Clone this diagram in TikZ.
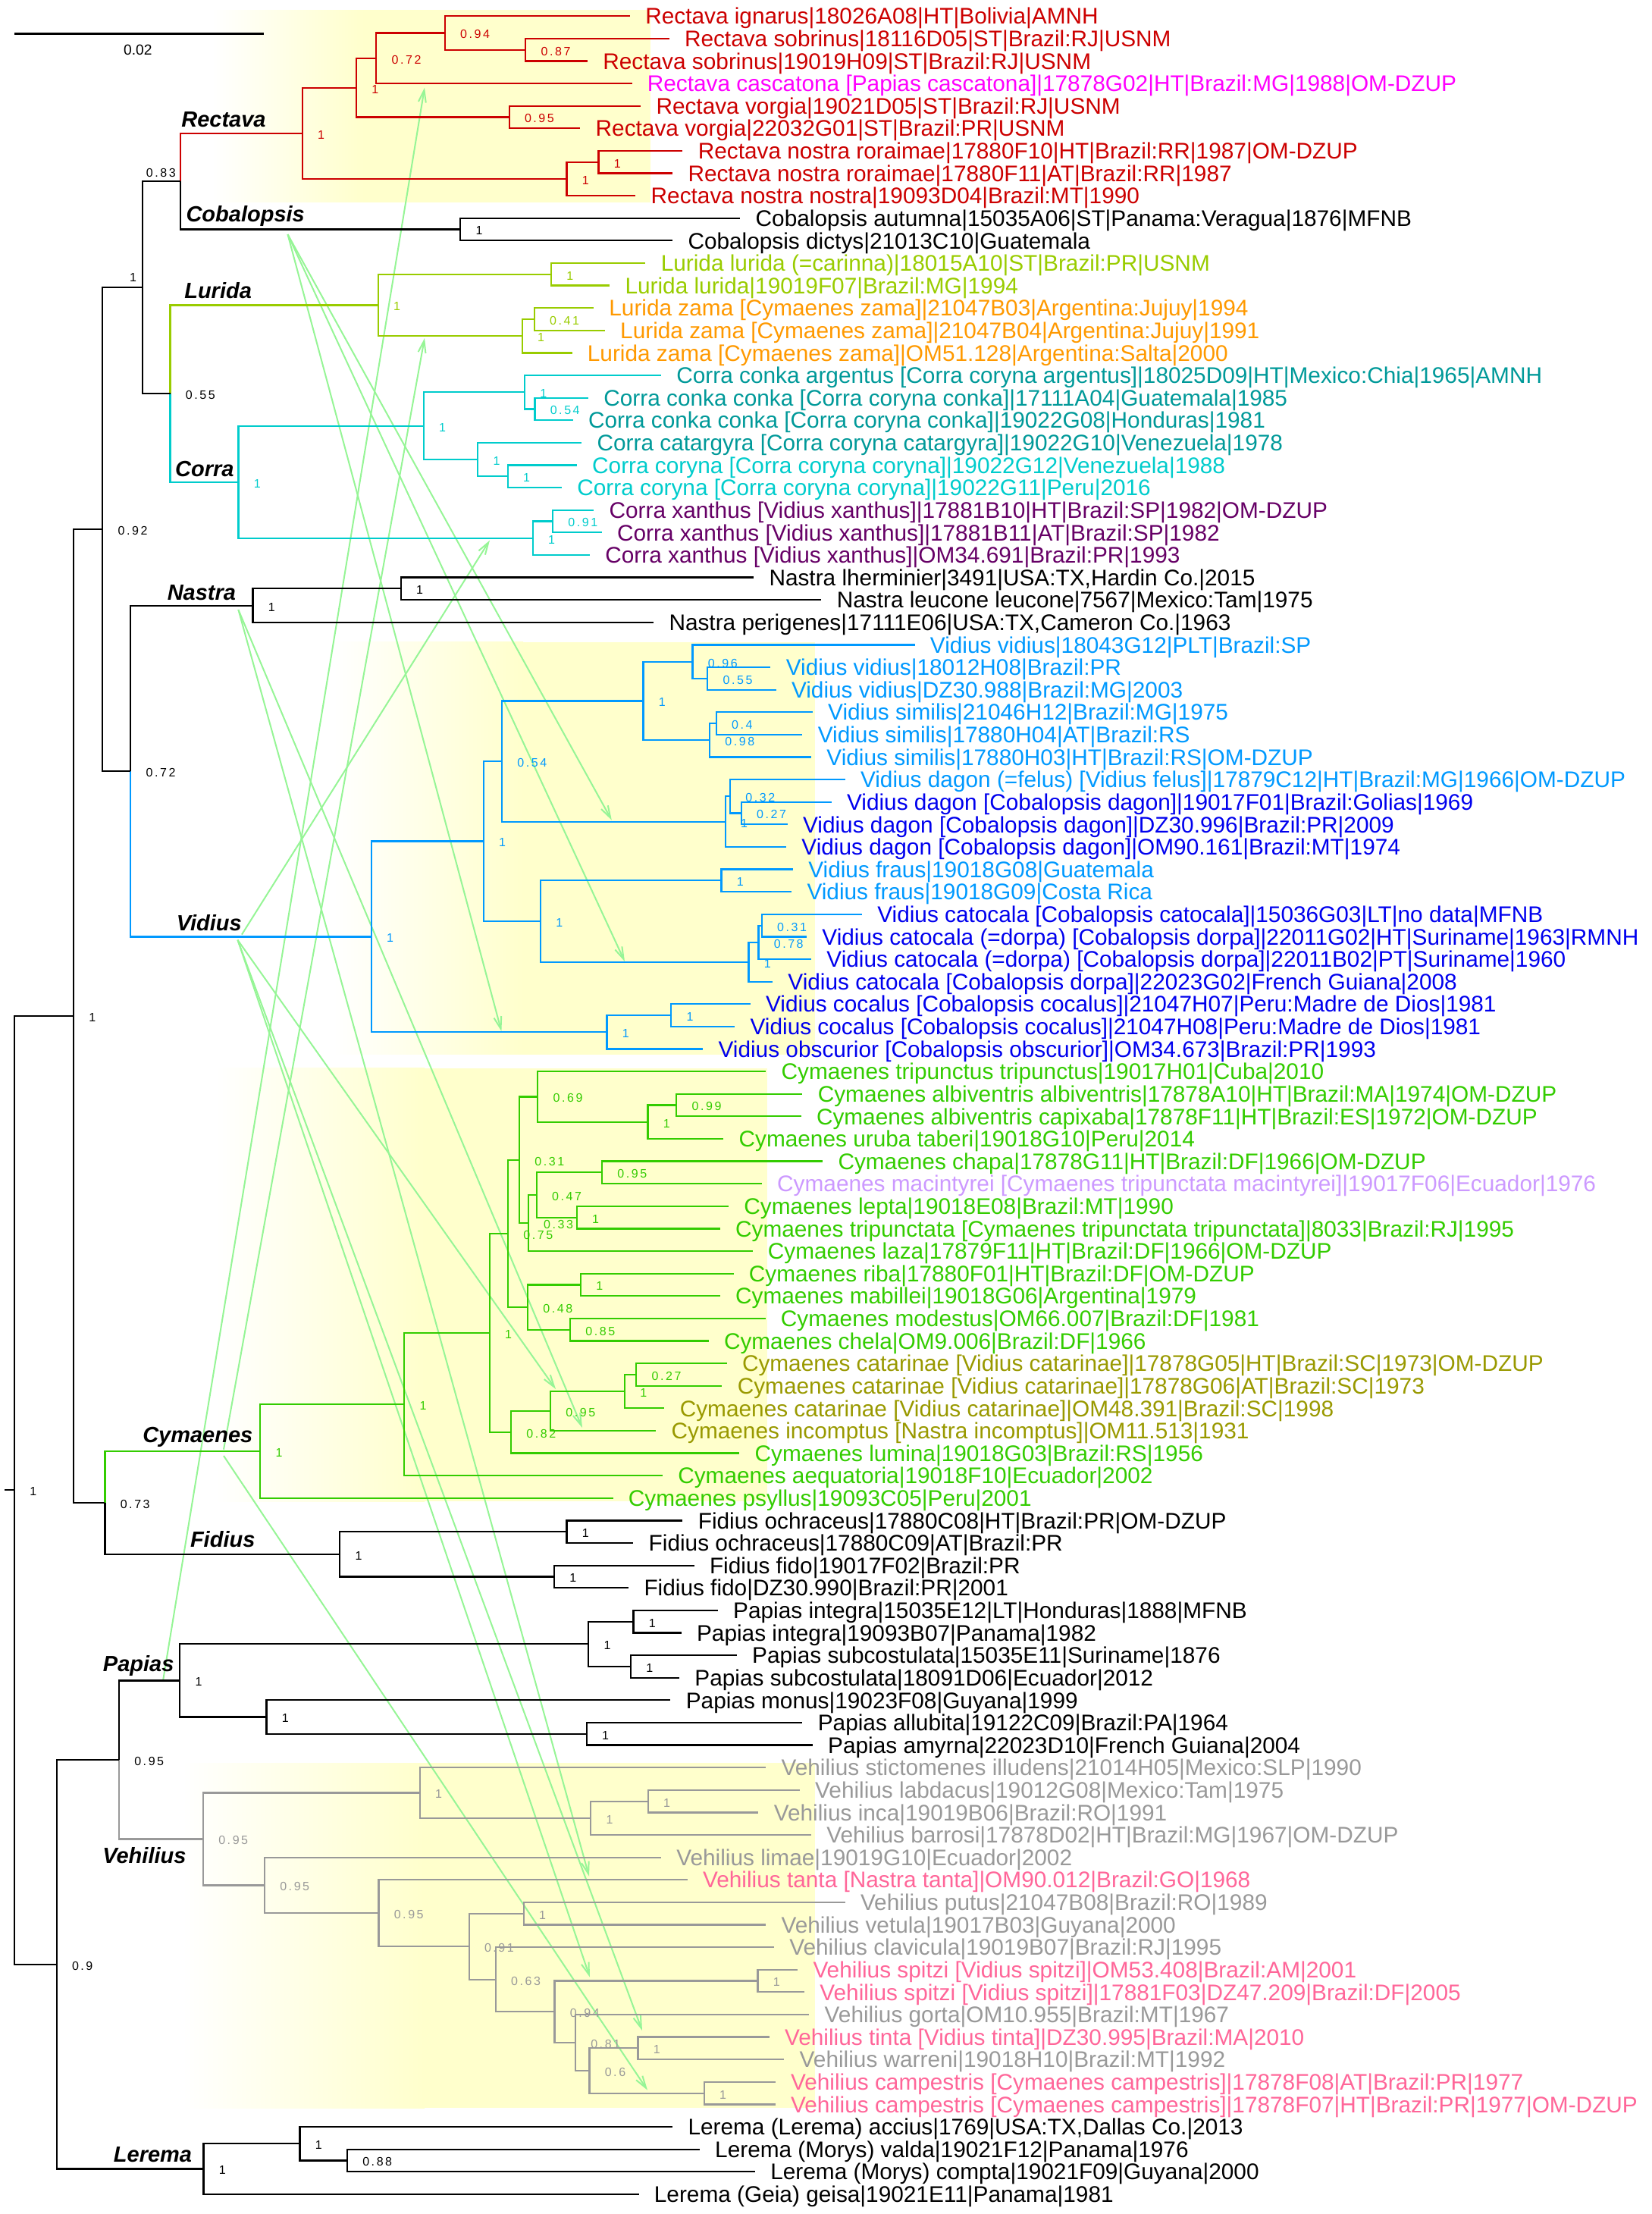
\documentclass[tikz,border=0pt]{standalone}
\usepackage{fontspec}
\setmainfont{Liberation Sans}
\newfontfamily\supmono[LetterSpace=16]{Liberation Sans}
\usetikzlibrary{arrows.meta}
\definecolor{kred}{RGB}{204,0,0}
\definecolor{kmag}{RGB}{255,0,255}
\definecolor{klg}{RGB}{153,204,0}
\definecolor{korg}{RGB}{255,153,0}
\definecolor{kteal}{RGB}{0,153,153}
\definecolor{kcyan}{RGB}{0,204,204}
\definecolor{kpur}{RGB}{102,0,102}
\definecolor{kvb}{RGB}{0,153,255}
\definecolor{kdb}{RGB}{0,0,238}
\definecolor{kgr}{RGB}{51,204,0}
\definecolor{kolv}{RGB}{153,153,0}
\definecolor{klav}{RGB}{204,153,255}
\definecolor{kgray}{RGB}{153,153,153}
\definecolor{kpink}{RGB}{255,102,153}
\definecolor{karrow}{RGB}{150,245,150}
\definecolor{khl}{RGB}{255,255,204}
\newcommand\FYrow[1]{{((#1)+8.415)/29.615}}
\newcommand\LeafT[4]{\node[leafl,text=#3] (t#1) at (#2,#1) {#4};}
\newcommand\NodeC[3]{\coordinate (#1) at (#2,#3);}
\newcommand\Pair[4]{\draw[brl,#4] (#1) |- (#2); \draw[brl,#4] (#1) |- (#3);}
\newcommand\OneBr[3]{\draw[brl,#3] (#1) |- (#2);}
\newcommand\SupL[3]{\node[supl,text=#3] (s#1) at ([xshift=10pt,yshift=-0.8pt]#1) {#2};}
\newcommand\Hilite[5]{\shade[left color=white,right color=khl] (#1,\FYrow{#4}) rectangle (#2,\FYrow{#5});
  \fill[khl] (#2-0.5,\FYrow{#4}) rectangle (#3,\FYrow{#5});}
\begin{document}
\begin{tikzpicture}[x=0.5pt,y=-14.8075pt,
 brl/.style={line width=1.1pt},
 leafl/.style={anchor=west,inner xsep=10pt,inner ysep=0pt,text height=10.67pt,text depth=0pt,font=\fontsize{14.9pt}{17pt}\selectfont},
 supl/.style={anchor=west,inner sep=0pt,text height=5.8pt,text depth=0pt,font=\supmono\fontsize{8pt}{9pt}\selectfont},
 cladel/.style={inner sep=0pt,text height=10.4pt,text depth=0pt,font=\fontsize{14.5pt}{16pt}\selectfont\bfseries\itshape},
 arrowl/.style={draw=karrow,line width=1pt,-{Straight Barb[length=8pt,width=5pt]}}]
\useasboundingbox (0,0.28415) rectangle (2179,98.883);
% highlights
\Hilite{280}{480}{858}{13}{266.7}
\Hilite{440}{690}{1075}{846.7}{1390.5}
\Hilite{285}{560}{1012}{1408.7}{1980}
\Hilite{240}{560}{1075}{2325}{2780.3}
% arrows
\coordinate (aCob) at (379.5,\FYrow{309.1});
\coordinate (aNas) at (314.4,\FYrow{804.1});
\coordinate (aVidU) at (318.9,\FYrow{1232.6});
\coordinate (aVidD) at (313.5,\FYrow{1239.7});
\coordinate (aCymU) at (295,\FYrow{1911.7});
\coordinate (aCymD) at (295,\FYrow{1920});
\coordinate (aPap) at (215,\FYrow{2216.7});
\coordinate (zCasc) at (560,\FYrow{115.6});
\coordinate (zZama) at (560,\FYrow{446});
\coordinate (zXant) at (646,\FYrow{712.6});
\coordinate (zDagon) at (806.8,\FYrow{1081.6});
\coordinate (zCatoc) at (824,\FYrow{1268});
\coordinate (zCocal) at (661.4,\FYrow{1360});
\coordinate (zCatar) at (733,\FYrow{1832});
\coordinate (zIncom) at (768,\FYrow{1883});
\coordinate (zTanta) at (777,\FYrow{2474.5});
\coordinate (zSpitz) at (778,\FYrow{2607.6});
\coordinate (zTinta) at (847,\FYrow{2678});
\coordinate (zCamp) at (854,\FYrow{2756.6});
\draw[arrowl] (aPap) -- (zCasc);
\draw[arrowl] (aCymU) -- (zZama);
\draw[arrowl] (aCymD) -- (zCamp);
\draw[arrowl] (aVidU) -- (zXant);
\draw[arrowl] (aVidD) -- (zCatar);
\draw[arrowl] (aVidD) -- (zSpitz);
\draw[arrowl] (aVidD) -- (zTinta);
\draw[arrowl] (aCob) -- (zDagon);
\draw[arrowl] (aCob) -- (zCatoc);
\draw[arrowl] (aCob) -- (zCocal);
\draw[arrowl] (aNas) -- (zIncom);
\draw[arrowl] (aNas) -- (zTanta);
% internal nodes
\NodeC{rA}{693.2}{2.5}\NodeC{rB}{586.7}{1.75}\NodeC{rC}{496.2}{2.875}\NodeC{rD}{671.6}{5.5}
\NodeC{rE}{470}{4.1875}\NodeC{rF}{789.5}{7.5}\NodeC{rG}{747.4}{8.25}\NodeC{rH}{398.6}{6.21875}
\NodeC{cob}{607.1}{10.5}\NodeC{R0}{237.9}{8.359375}
\NodeC{lI}{727}{12.5}\NodeC{lJ}{704.7}{14.5}\NodeC{lK}{688.8}{15.25}\NodeC{lur}{498.7}{13.875}
\NodeC{cM}{705.4}{18.5}\NodeC{cN}{692}{17.75}\NodeC{cO}{669.6}{21.5}\NodeC{cP}{630.1}{20.75}
\NodeC{cQ}{558.7}{19.25}\NodeC{cS}{729}{23.5}\NodeC{cT}{702.8}{24.25}\NodeC{cor}{314.4}{21.75}
\NodeC{LC}{224.5}{17.8125}\NodeC{X1}{188.1}{13.0859375}
\NodeC{nU}{528.7}{26.5}\NodeC{nas}{333.5}{27.25}
\NodeC{v1}{933.3}{30.5}\NodeC{v2}{913.5}{29.75}\NodeC{v3}{944.8}{32.5}\NodeC{v4}{936}{33.25}
\NodeC{v5}{848.5}{31.5}\NodeC{v6}{977.7}{36.5}\NodeC{v7}{963}{35.75}\NodeC{v8}{956.6}{36.875}
\NodeC{v9}{662}{34.1875}\NodeC{v10}{951.4}{39.5}\NodeC{v11}{1004.8}{41.5}\NodeC{v12}{1000.4}{42.25}
\NodeC{v13}{987.5}{43.125}\NodeC{v14}{713}{41.3125}\NodeC{v15}{637.8}{37.75}\NodeC{v16}{885.3}{45.5}
\NodeC{v17}{800.5}{46.25}\NodeC{vid}{489.8}{42}\NodeC{NV}{172.2}{34.625}\NodeC{X2}{135.2}{23.85546875}
\NodeC{y1}{892.3}{49.5}\NodeC{y2}{854.5}{50.25}\NodeC{y3}{709.3}{49.125}\NodeC{y4}{794}{52.5}
\NodeC{y5}{760.7}{54.5}\NodeC{y6}{707.7}{53.5}\NodeC{y7}{696.7}{54.75}\NodeC{y8}{685}{51.9375}
\NodeC{y9}{766}{57.5}\NodeC{y10}{752}{59.5}\NodeC{y11}{696}{58.5}\NodeC{y12}{670}{55.21875}
\NodeC{y13}{839.3}{61.5}\NodeC{y14}{824}{62.25}\NodeC{y15}{726}{63.125}\NodeC{y16}{674}{64.0625}
\NodeC{y17}{645.6}{59.640625}\NodeC{y18}{533.2}{62.8203125}\NodeC{cym}{343.1}{64.91015625}
\NodeC{f1}{747.4}{68.5}\NodeC{f2}{730.9}{70.5}\NodeC{fid}{448.3}{69.5}
\NodeC{CF}{138.4}{67.205078}\NodeC{X3}{96.9}{45.530273}
\NodeC{p1}{835.5}{72.5}\NodeC{p2}{832}{74.5}\NodeC{p3}{776.1}{73.5}\NodeC{p4}{773.6}{77.5}
\NodeC{p5}{351.4}{76.75}\NodeC{pap}{237.2}{75.125}
\NodeC{h1}{854.6}{80.5}\NodeC{h2}{779.3}{81.25}\NodeC{h3}{553.6}{80.125}\NodeC{h4}{690.7}{85.5}
\NodeC{h5}{999.5}{88.5}\NodeC{h6}{841.5}{91.5}\NodeC{h7}{928.8}{93.5}\NodeC{h8}{777.4}{92.5}
\NodeC{h9}{758.9}{91.25}\NodeC{h10}{731.5}{89.875}\NodeC{h11}{653.7}{88.4375}\NodeC{h12}{618.6}{86.96875}
\NodeC{h13}{499.4}{85.484375}\NodeC{h14}{348.9}{84.2421875}\NodeC{veh}{267.9}{82.18359}
\NodeC{PV}{156.9}{78.654297}
\NodeC{e1}{457.9}{96.5}\NodeC{e2}{395.4}{95.75}\NodeC{ler}{268.5}{96.875}
\NodeC{PVL}{74.6}{87.764648}\NodeC{root}{19.1}{66.647461}\NodeC{stub}{6.4}{66.647461}
% leaves
\LeafT{1}{830.9}{kred}{Rectava ignarus|18026A08|HT|Bolivia|AMNH}
\LeafT{2}{882.6}{kred}{Rectava sobrinus|18116D05|ST|Brazil:RJ|USNM}
\LeafT{3}{775.0}{kred}{Rectava sobrinus|19019H09|ST|Brazil:RJ|USNM}
\LeafT{4}{833.5}{kmag}{Rectava cascatona [Papias cascatona]|17878G02|HT|Brazil:MG|1988|OM-DZUP}
\LeafT{5}{845.1}{kred}{Rectava vorgia|19021D05|ST|Brazil:RJ|USNM}
\LeafT{6}{765.3}{kred}{Rectava vorgia|22032G01|ST|Brazil:PR|USNM}
\LeafT{7}{900.4}{kred}{Rectava nostra roraimae|17880F10|HT|Brazil:RR|1987|OM-DZUP}
\LeafT{8}{887.1}{kred}{Rectava nostra roraimae|17880F11|AT|Brazil:RR|1987}
\LeafT{9}{838.3}{kred}{Rectava nostra nostra|19093D04|Brazil:MT|1990}
\LeafT{10}{976.3}{black}{Cobalopsis autumna|15035A06|ST|Panama:Veragua|1876|MFNB}
\LeafT{11}{887.1}{black}{Cobalopsis dictys|21013C10|Guatemala}
\LeafT{12}{851.4}{klg}{Lurida lurida (=carinna)|18015A10|ST|Brazil:PR|USNM}
\LeafT{13}{804.1}{klg}{Lurida lurida|19019F07|Brazil:MG|1994}
\LeafT{14}{783.0}{korg}{Lurida zama [Cymaenes zama]|21047B03|Argentina:Jujuy|1994}
\LeafT{15}{797.8}{korg}{Lurida zama [Cymaenes zama]|21047B04|Argentina:Jujuy|1991}
\LeafT{16}{754.5}{korg}{Lurida zama [Cymaenes zama]|OM51.128|Argentina:Salta|2000}
\LeafT{17}{872.0}{kteal}{Corra conka argentus [Corra coryna argentus]|18025D09|HT|Mexico:Chia|1965|AMNH}
\LeafT{18}{776.0}{kteal}{Corra conka conka [Corra coryna conka]|17111A04|Guatemala|1985}
\LeafT{19}{755.7}{kteal}{Corra conka conka [Corra coryna conka]|19022G08|Honduras|1981}
\LeafT{20}{767.2}{kteal}{Corra catargyra [Corra coryna catargyra]|19022G10|Venezuela|1978}
\LeafT{21}{760.8}{kcyan}{Corra coryna [Corra coryna coryna]|19022G12|Venezuela|1988}
\LeafT{22}{741.0}{kcyan}{Corra coryna [Corra coryna coryna]|19022G11|Peru|2016}
\LeafT{23}{783.2}{kpur}{Corra xanthus [Vidius xanthus]|17881B10|HT|Brazil:SP|1982|OM-DZUP}
\LeafT{24}{793.7}{kpur}{Corra xanthus [Vidius xanthus]|17881B11|AT|Brazil:SP|1982}
\LeafT{25}{778.0}{kpur}{Corra xanthus [Vidius xanthus]|OM34.691|Brazil:PR|1993}
\LeafT{26}{994.1}{black}{Nastra lherminier|3491|USA:TX,Hardin Co.|2015}
\LeafT{27}{1083.4}{black}{Nastra leucone leucone|7567|Mexico:Tam|1975}
\LeafT{28}{862.1}{black}{Nastra perigenes|17111E06|USA:TX,Cameron Co.|1963}
\LeafT{29}{1206.5}{kvb}{Vidius vidius|18043G12|PLT|Brazil:SP}
\LeafT{30}{1016.4}{kvb}{Vidius vidius|18012H08|Brazil:PR}
\LeafT{31}{1023.6}{kvb}{Vidius vidius|DZ30.988|Brazil:MG|2003}
\LeafT{32}{1071.8}{kvb}{Vidius similis|21046H12|Brazil:MG|1975}
\LeafT{33}{1058.4}{kvb}{Vidius similis|17880H04|AT|Brazil:RS}
\LeafT{34}{1070.0}{kvb}{Vidius similis|17880H03|HT|Brazil:RS|OM-DZUP}
\LeafT{35}{1114.6}{kvb}{Vidius dagon (=felus) [Vidius felus]|17879C12|HT|Brazil:MG|1966|OM-DZUP}
\LeafT{36}{1096.7}{kdb}{Vidius dagon [Cobalopsis dagon]|19017F01|Brazil:Golias|1969}
\LeafT{37}{1038.7}{kdb}{Vidius dagon [Cobalopsis dagon]|DZ30.996|Brazil:PR|2009}
\LeafT{38}{1037.0}{kdb}{Vidius dagon [Cobalopsis dagon]|OM90.161|Brazil:MT|1974}
\LeafT{39}{1045.9}{kvb}{Vidius fraus|19018G08|Guatemala}
\LeafT{40}{1044.1}{kvb}{Vidius fraus|19018G09|Costa Rica}
\LeafT{41}{1136.9}{kdb}{Vidius catocala [Cobalopsis catocala]|15036G03|LT|no data|MFNB}
\LeafT{42}{1064.0}{kdb}{Vidius catocala (=dorpa) [Cobalopsis dorpa]|22011G02|HT|Suriname|1963|RMNH}
\LeafT{43}{1070.0}{kdb}{Vidius catocala (=dorpa) [Cobalopsis dorpa]|22011B02|PT|Suriname|1960}
\LeafT{44}{1019.0}{kdb}{Vidius catocala [Cobalopsis dorpa]|22023G02|French Guiana|2008}
\LeafT{45}{989.7}{kdb}{Vidius cocalus [Cobalopsis cocalus]|21047H07|Peru:Madre de Dios|1981}
\LeafT{46}{969.2}{kdb}{Vidius cocalus [Cobalopsis cocalus]|21047H08|Peru:Madre de Dios|1981}
\LeafT{47}{927.2}{kdb}{Vidius obscurior [Cobalopsis obscurior]|OM34.673|Brazil:PR|1993}
\LeafT{48}{1010.2}{kgr}{Cymaenes tripunctus tripunctus|19017H01|Cuba|2010}
\LeafT{49}{1058.4}{kgr}{Cymaenes albiventris albiventris|17878A10|HT|Brazil:MA|1974|OM-DZUP}
\LeafT{50}{1056.6}{kgr}{Cymaenes albiventris capixaba|17878F11|HT|Brazil:ES|1972|OM-DZUP}
\LeafT{51}{954.2}{kgr}{Cymaenes uruba taberi|19018G10|Peru|2014}
\LeafT{52}{1085.1}{kgr}{Cymaenes chapa|17878G11|HT|Brazil:DF|1966|OM-DZUP}
\LeafT{53}{1004.8}{klav}{Cymaenes macintyrei [Cymaenes tripunctata macintyrei]|19017F06|Ecuador|1976}
\LeafT{54}{961.0}{kgr}{Cymaenes lepta|19018E08|Brazil:MT|1990}
\LeafT{55}{949.7}{kgr}{Cymaenes tripunctata [Cymaenes tripunctata tripunctata]|8033|Brazil:RJ|1995}
\LeafT{56}{992.5}{kgr}{Cymaenes laza|17879F11|HT|Brazil:DF|1966|OM-DZUP}
\LeafT{57}{967.5}{kgr}{Cymaenes riba|17880F01|HT|Brazil:DF|OM-DZUP}
\LeafT{58}{949.7}{kgr}{Cymaenes mabillei|19018G06|Argentina|1979}
\LeafT{59}{1009.5}{kgr}{Cymaenes modestus|OM66.007|Brazil:DF|1981}
\LeafT{60}{934.6}{kgr}{Cymaenes chela|OM9.006|Brazil:DF|1966}
\LeafT{61}{958.6}{kolv}{Cymaenes catarinae [Vidius catarinae]|17878G05|HT|Brazil:SC|1973|OM-DZUP}
\LeafT{62}{952.4}{kolv}{Cymaenes catarinae [Vidius catarinae]|17878G06|AT|Brazil:SC|1973}
\LeafT{63}{876.4}{kolv}{Cymaenes catarinae [Vidius catarinae]|OM48.391|Brazil:SC|1998}
\LeafT{64}{865.2}{kolv}{Cymaenes incomptus [Nastra incomptus]|OM11.513|1931}
\LeafT{65}{975.2}{kgr}{Cymaenes lumina|19018G03|Brazil:RS|1956}
\LeafT{66}{873.9}{kgr}{Cymaenes aequatoria|19018F10|Ecuador|2002}
\LeafT{67}{808.5}{kgr}{Cymaenes psyllus|19093C05|Peru|2001}
\LeafT{68}{900.4}{black}{Fidius ochraceus|17880C08|HT|Brazil:PR|OM-DZUP}
\LeafT{69}{835.3}{black}{Fidius ochraceus|17880C09|AT|Brazil:PR}
\LeafT{70}{915.6}{black}{Fidius fido|19017F02|Brazil:PR}
\LeafT{71}{829.1}{black}{Fidius fido|DZ30.990|Brazil:PR|2001}
\LeafT{72}{946.8}{black}{Papias integra|15035E12|LT|Honduras|1888|MFNB}
\LeafT{73}{898.7}{black}{Papias integra|19093B07|Panama|1982}
\LeafT{74}{971.8}{black}{Papias subcostulata|15035E11|Suriname|1876}
\LeafT{75}{896.0}{black}{Papias subcostulata|18091D06|Ecuador|2012}
\LeafT{76}{884.4}{black}{Papias monus|19023F08|Guyana|1999}
\LeafT{77}{1058.4}{black}{Papias allubita|19122C09|Brazil:PA|1964}
\LeafT{78}{1071.8}{black}{Papias amyrna|22023D10|French Guiana|2004}
\LeafT{79}{1010.2}{kgray}{Vehilius stictomenes illudens|21014H05|Mexico:SLP|1990}
\LeafT{80}{1054.8}{kgray}{Vehilius labdacus|19012G08|Mexico:Tam|1975}
\LeafT{81}{1000.4}{kgray}{Vehilius inca|19019B06|Brazil:RO|1991}
\LeafT{82}{1070.0}{kgray}{Vehilius barrosi|17878D02|HT|Brazil:MG|1967|OM-DZUP}
\LeafT{83}{871.9}{kgray}{Vehilius limae|19019G10|Ecuador|2002}
\LeafT{84}{906.7}{kpink}{Vehilius tanta [Nastra tanta]|OM90.012|Brazil:GO|1968}
\LeafT{85}{1114.6}{kgray}{Vehilius putus|21047B08|Brazil:RO|1989}
\LeafT{86}{1010.2}{kgray}{Vehilius vetula|19017B03|Guyana|2000}
\LeafT{87}{1020.9}{kgray}{Vehilius clavicula|19019B07|Brazil:RJ|1995}
\LeafT{88}{1052.1}{kpink}{Vehilius spitzi [Vidius spitzi]|OM53.408|Brazil:AM|2001}
\LeafT{89}{1061.0}{kpink}{Vehilius spitzi [Vidius spitzi]|17881F03|DZ47.209|Brazil:DF|2005}
\LeafT{90}{1067.3}{kgray}{Vehilius gorta|OM10.955|Brazil:MT|1967}
\LeafT{91}{1014.7}{kpink}{Vehilius tinta [Vidius tinta]|DZ30.995|Brazil:MA|2010}
\LeafT{92}{1034.3}{kgray}{Vehilius warreni|19018H10|Brazil:MT|1992}
\LeafT{93}{1022.7}{kpink}{Vehilius campestris [Cymaenes campestris]|17878F08|AT|Brazil:PR|1977}
\LeafT{94}{1022.7}{kpink}{Vehilius campestris [Cymaenes campestris]|17878F07|HT|Brazil:PR|1977|OM-DZUP}
\LeafT{95}{887.1}{black}{Lerema (Lerema) accius|1769|USA:TX,Dallas Co.|2013}
\LeafT{96}{922.8}{black}{Lerema (Morys) valda|19021F12|Panama|1976}
\LeafT{97}{995.9}{black}{Lerema (Morys) compta|19021F09|Guyana|2000}
\LeafT{98}{842.5}{black}{Lerema (Geia) geisa|19021E11|Panama|1981}
% branches
\Pair{rA}{t2}{t3}{kred}\Pair{rB}{t1}{rA}{kred}\Pair{rC}{rB}{t4}{kred}\Pair{rD}{t5}{t6}{kred}
\Pair{rE}{rC}{rD}{kred}\Pair{rF}{t7}{t8}{kred}\Pair{rG}{rF}{t9}{kred}\Pair{rH}{rE}{rG}{kred}
\Pair{cob}{t10}{t11}{black}
\OneBr{R0}{rH}{kred}\OneBr{R0}{cob}{black}
\Pair{lI}{t12}{t13}{klg}\Pair{lJ}{t14}{t15}{klg}\Pair{lK}{lJ}{t16}{klg}\Pair{lur}{lI}{lK}{klg}
\Pair{cM}{t18}{t19}{kcyan}\Pair{cN}{t17}{cM}{kcyan}\Pair{cO}{t21}{t22}{kcyan}\Pair{cP}{t20}{cO}{kcyan}
\Pair{cQ}{cN}{cP}{kcyan}\Pair{cS}{t23}{t24}{kcyan}\Pair{cT}{cS}{t25}{kcyan}\Pair{cor}{cQ}{cT}{kcyan}
\OneBr{LC}{lur}{klg}\OneBr{LC}{cor}{kcyan}
\Pair{X1}{R0}{LC}{black}
\Pair{nU}{t26}{t27}{black}\Pair{nas}{nU}{t28}{black}
\Pair{v1}{t30}{t31}{kvb}\Pair{v2}{t29}{v1}{kvb}\Pair{v3}{t32}{t33}{kvb}\Pair{v4}{v3}{t34}{kvb}
\Pair{v5}{v2}{v4}{kvb}\Pair{v6}{t36}{t37}{kvb}\Pair{v7}{t35}{v6}{kvb}\Pair{v8}{v7}{t38}{kvb}
\Pair{v9}{v5}{v8}{kvb}\Pair{v10}{t39}{t40}{kvb}\Pair{v11}{t41}{t42}{kvb}\Pair{v12}{v11}{t43}{kvb}
\Pair{v13}{v12}{t44}{kvb}\Pair{v14}{v10}{v13}{kvb}\Pair{v15}{v9}{v14}{kvb}\Pair{v16}{t45}{t46}{kvb}
\Pair{v17}{v16}{t47}{kvb}\Pair{vid}{v15}{v17}{kvb}
\OneBr{NV}{nas}{black}\OneBr{NV}{vid}{kvb}
\Pair{X2}{X1}{NV}{black}
\Pair{y1}{t49}{t50}{kgr}\Pair{y2}{y1}{t51}{kgr}\Pair{y3}{t48}{y2}{kgr}\Pair{y4}{t52}{t53}{kgr}
\Pair{y5}{t54}{t55}{kgr}\Pair{y6}{y4}{y5}{kgr}\Pair{y7}{y6}{t56}{kgr}\Pair{y8}{y3}{y7}{kgr}
\Pair{y9}{t57}{t58}{kgr}\Pair{y10}{t59}{t60}{kgr}\Pair{y11}{y9}{y10}{kgr}\Pair{y12}{y8}{y11}{kgr}
\Pair{y13}{t61}{t62}{kgr}\Pair{y14}{y13}{t63}{kgr}\Pair{y15}{y14}{t64}{kgr}\Pair{y16}{y15}{t65}{kgr}
\Pair{y17}{y12}{y16}{kgr}\Pair{y18}{y17}{t66}{kgr}\Pair{cym}{y18}{t67}{kgr}
\Pair{f1}{t68}{t69}{black}\Pair{f2}{t70}{t71}{black}\Pair{fid}{f1}{f2}{black}
\OneBr{CF}{cym}{kgr}\OneBr{CF}{fid}{black}
\Pair{X3}{X2}{CF}{black}
\Pair{p1}{t72}{t73}{black}\Pair{p2}{t74}{t75}{black}\Pair{p3}{p1}{p2}{black}
\Pair{p4}{t77}{t78}{black}\Pair{p5}{t76}{p4}{black}\Pair{pap}{p3}{p5}{black}
\Pair{h1}{t80}{t81}{kgray}\Pair{h2}{h1}{t82}{kgray}\Pair{h3}{t79}{h2}{kgray}\Pair{h4}{t85}{t86}{kgray}
\Pair{h5}{t88}{t89}{kgray}\Pair{h6}{t91}{t92}{kgray}\Pair{h7}{t93}{t94}{kgray}\Pair{h8}{h6}{h7}{kgray}
\Pair{h9}{t90}{h8}{kgray}\Pair{h10}{h5}{h9}{kgray}\Pair{h11}{t87}{h10}{kgray}\Pair{h12}{h4}{h11}{kgray}
\Pair{h13}{t84}{h12}{kgray}\Pair{h14}{t83}{h13}{kgray}\Pair{veh}{h3}{h14}{kgray}
\OneBr{PV}{pap}{black}\OneBr{PV}{veh}{kgray}
\Pair{e1}{t96}{t97}{black}\Pair{e2}{t95}{e1}{black}\Pair{ler}{e2}{t98}{black}
\Pair{PVL}{PV}{ler}{black}
\Pair{root}{X3}{PVL}{black}
\draw[brl] (stub) -- (root);
% support values
\SupL{rA}{0.87}{kred}\SupL{rB}{0.94}{kred}\SupL{rC}{0.72}{kred}\SupL{rD}{0.95}{kred}
\SupL{rE}{1}{kred}\SupL{rF}{1}{kred}\SupL{rG}{1}{kred}\SupL{rH}{1}{kred}
\SupL{cob}{1}{black}
\node[supl,anchor=east,text=black] (sR0) at ([xshift=-2.85pt,yshift=5.6pt]R0) {0.83};
\node[supl,anchor=east,text=black] (sX1) at ([xshift=-3.85pt,yshift=6.7pt]X1) {1};
\SupL{lI}{1}{klg}\SupL{lJ}{0.41}{klg}\SupL{lK}{1}{klg}\SupL{lur}{1}{klg}
\SupL{cM}{0.54}{kcyan}\SupL{cN}{1}{kcyan}\SupL{cO}{1}{kcyan}\SupL{cP}{1}{kcyan}
\SupL{cQ}{1}{kcyan}\SupL{cS}{0.91}{kcyan}\SupL{cT}{1}{kcyan}\SupL{cor}{1}{kcyan}
\SupL{LC}{0.55}{black}
\SupL{nU}{1}{black}\SupL{nas}{1}{black}
\SupL{v1}{0.55}{kvb}\SupL{v2}{0.96}{kvb}\SupL{v3}{0.4}{kvb}\SupL{v4}{0.98}{kvb}
\SupL{v5}{1}{kvb}\SupL{v6}{0.27}{kvb}\SupL{v7}{0.32}{kvb}\SupL{v8}{1}{kvb}
\SupL{v9}{0.54}{kvb}\SupL{v10}{1}{kvb}\SupL{v11}{0.31}{kvb}\SupL{v12}{0.78}{kvb}
\SupL{v13}{1}{kvb}\SupL{v14}{1}{kvb}\SupL{v15}{1}{kvb}\SupL{v16}{1}{kvb}
\SupL{v17}{1}{kvb}\SupL{vid}{1}{kvb}
\SupL{NV}{0.72}{black}\SupL{X2}{0.92}{black}
\SupL{y1}{0.99}{kgr}\SupL{y2}{1}{kgr}\SupL{y3}{0.69}{kgr}\SupL{y4}{0.95}{kgr}
\SupL{y5}{1}{kgr}\SupL{y6}{0.47}{kgr}\SupL{y7}{0.33}{kgr}\SupL{y8}{0.31}{kgr}
\SupL{y9}{1}{kgr}\SupL{y10}{0.85}{kgr}\SupL{y11}{0.48}{kgr}\SupL{y12}{0.75}{kgr}
\SupL{y13}{0.27}{kgr}\SupL{y14}{1}{kgr}\SupL{y15}{0.95}{kgr}\SupL{y16}{0.82}{kgr}
\SupL{y17}{1}{kgr}\SupL{y18}{1}{kgr}\SupL{cym}{1}{kgr}
\SupL{f1}{1}{black}\SupL{f2}{1}{black}\SupL{fid}{1}{black}
\SupL{CF}{0.73}{black}\SupL{X3}{1}{black}
\SupL{p1}{1}{black}\SupL{p2}{1}{black}\SupL{p3}{1}{black}\SupL{p4}{1}{black}
\SupL{p5}{1}{black}\SupL{pap}{1}{black}
\SupL{h1}{1}{kgray}\SupL{h2}{1}{kgray}\SupL{h3}{1}{kgray}\SupL{h4}{1}{kgray}
\SupL{h5}{1}{kgray}\SupL{h6}{1}{kgray}\SupL{h7}{1}{kgray}\SupL{h8}{0.6}{kgray}
\SupL{h9}{0.81}{kgray}\SupL{h10}{0.94}{kgray}\SupL{h11}{0.63}{kgray}\SupL{h12}{0.91}{kgray}
\SupL{h13}{0.95}{kgray}\SupL{h14}{0.95}{kgray}\SupL{veh}{0.95}{kgray}
\SupL{PV}{0.95}{black}
\SupL{e1}{0.88}{black}\SupL{e2}{1}{black}\SupL{ler}{1}{black}
\SupL{PVL}{0.9}{black}\SupL{root}{1}{black}
% clade names
\node[cladel] (gRect) at (295,\FYrow{156.9}) {Rectava};
\node[cladel] (gCob) at (323.7,\FYrow{281.7}) {Cobalopsis};
\node[cladel] (gLur) at (287.6,\FYrow{383}) {Lurida};
\node[cladel] (gCorra) at (269.8,\FYrow{618.2}) {Corra};
\node[cladel] (gNas) at (265.9,\FYrow{780.7}) {Nastra};
\node[cladel] (gVid) at (275.8,\FYrow{1216.8}) {Vidius};
\node[cladel] (gCym) at (260.8,\FYrow{1891.7}) {Cymaenes};
\node[cladel] (gFid) at (293.7,\FYrow{2030.3}) {Fidius};
\node[cladel] (gPap) at (182.7,\FYrow{2193.7}) {Papias};
\node[cladel] (gVeh) at (190.4,\FYrow{2447.4}) {Vehilius};
\node[cladel] (gLer) at (201.5,\FYrow{2840.6}) {Lerema};
% scale bar
\coordinate (sbL) at (19.1,\FYrow{44.8});
\coordinate (sbR) at (347.6,\FYrow{44.8});
\draw[line width=1.4pt] (sbL) -- (sbR);
\node[inner sep=0pt,text height=6.9pt,text depth=0pt,font=\fontsize{9.6pt}{11pt}\selectfont] (sbT) at (181.8,\FYrow{65.1}) {0.02};
\end{tikzpicture}
\end{document}
